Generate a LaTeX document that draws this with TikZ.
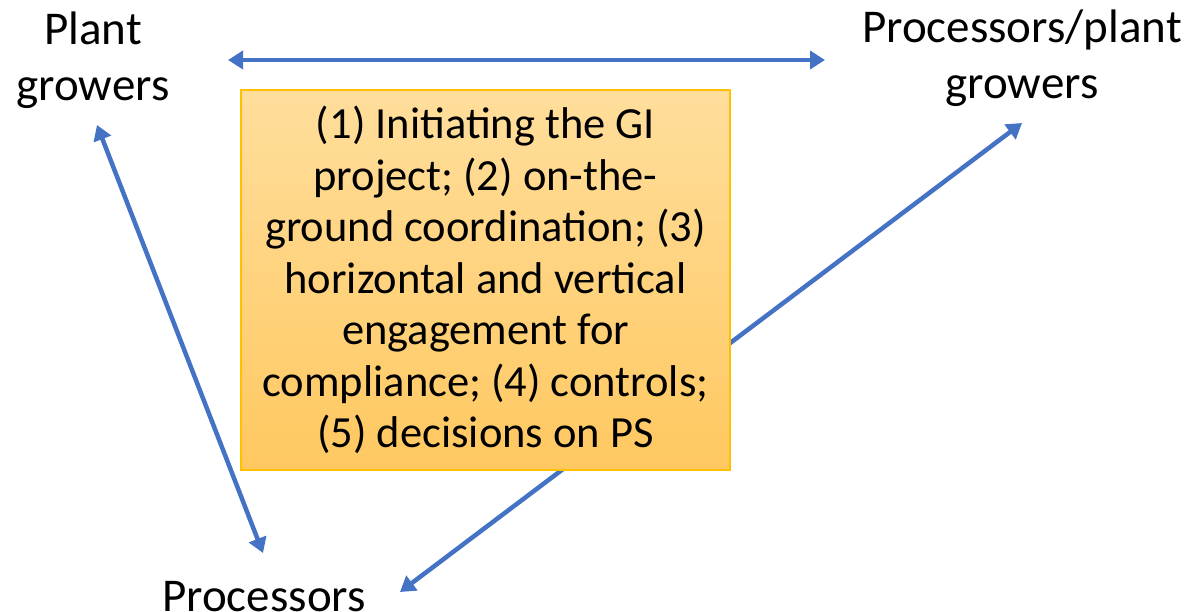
\documentclass[tikz,border=0pt]{standalone}
\usepackage{fontspec}
\setmainfont{Carlito}
\usetikzlibrary{arrows.meta}
\definecolor{linkblue}{RGB}{68,114,196}
\definecolor{boxtop}{RGB}{255,222,156}
\definecolor{boxbot}{RGB}{255,200,96}
\definecolor{boxedge}{RGB}{255,192,0}
\tikzset{
  lbl/.style={align=center,font=\fontsize{47}{56}\selectfont,inner sep=0pt},
  link/.style={draw=linkblue,line width=4.5pt,{Triangle[length=15pt,width=18pt]}-{Triangle[length=15pt,width=18pt]}},
  rolebox/.style={draw=boxedge,line width=1.2pt,top color=boxtop,bottom color=boxbot,minimum width=489pt,minimum height=380pt,inner sep=0pt,align=center,font=\fontsize{44.5}{51.5}\selectfont}
}
\begin{document}
\begin{tikzpicture}[x=1pt,y=-1pt]
\useasboundingbox (0,0) rectangle (1192,612);
\node[lbl] (pg) at (93,60) {Plant\\growers};
\node[lbl] (ppg) at (1022,58) {Processors/plant\\growers};
\node[lbl,anchor=base] (pr) at (264,611) {Processors};
\coordinate (hA) at (228,60);
\coordinate (hB) at (825,60);
\coordinate (lA) at (97,125);
\coordinate (lB) at (263,553);
\coordinate (dA) at (1022,123);
\coordinate (dB) at (400,592);
\draw[link] (hA) -- (hB);
\draw[link] (lA) -- (lB);
\draw[link] (dA) -- (dB);
\node[rolebox] (box) at (485.5,280) {(1) Initiating the GI\\project; (2) on-the-\\ground coordination; (3)\\horizontal and vertical\\engagement for\\compliance; (4) controls;\\(5) decisions on PS};
\end{tikzpicture}
\end{document}
